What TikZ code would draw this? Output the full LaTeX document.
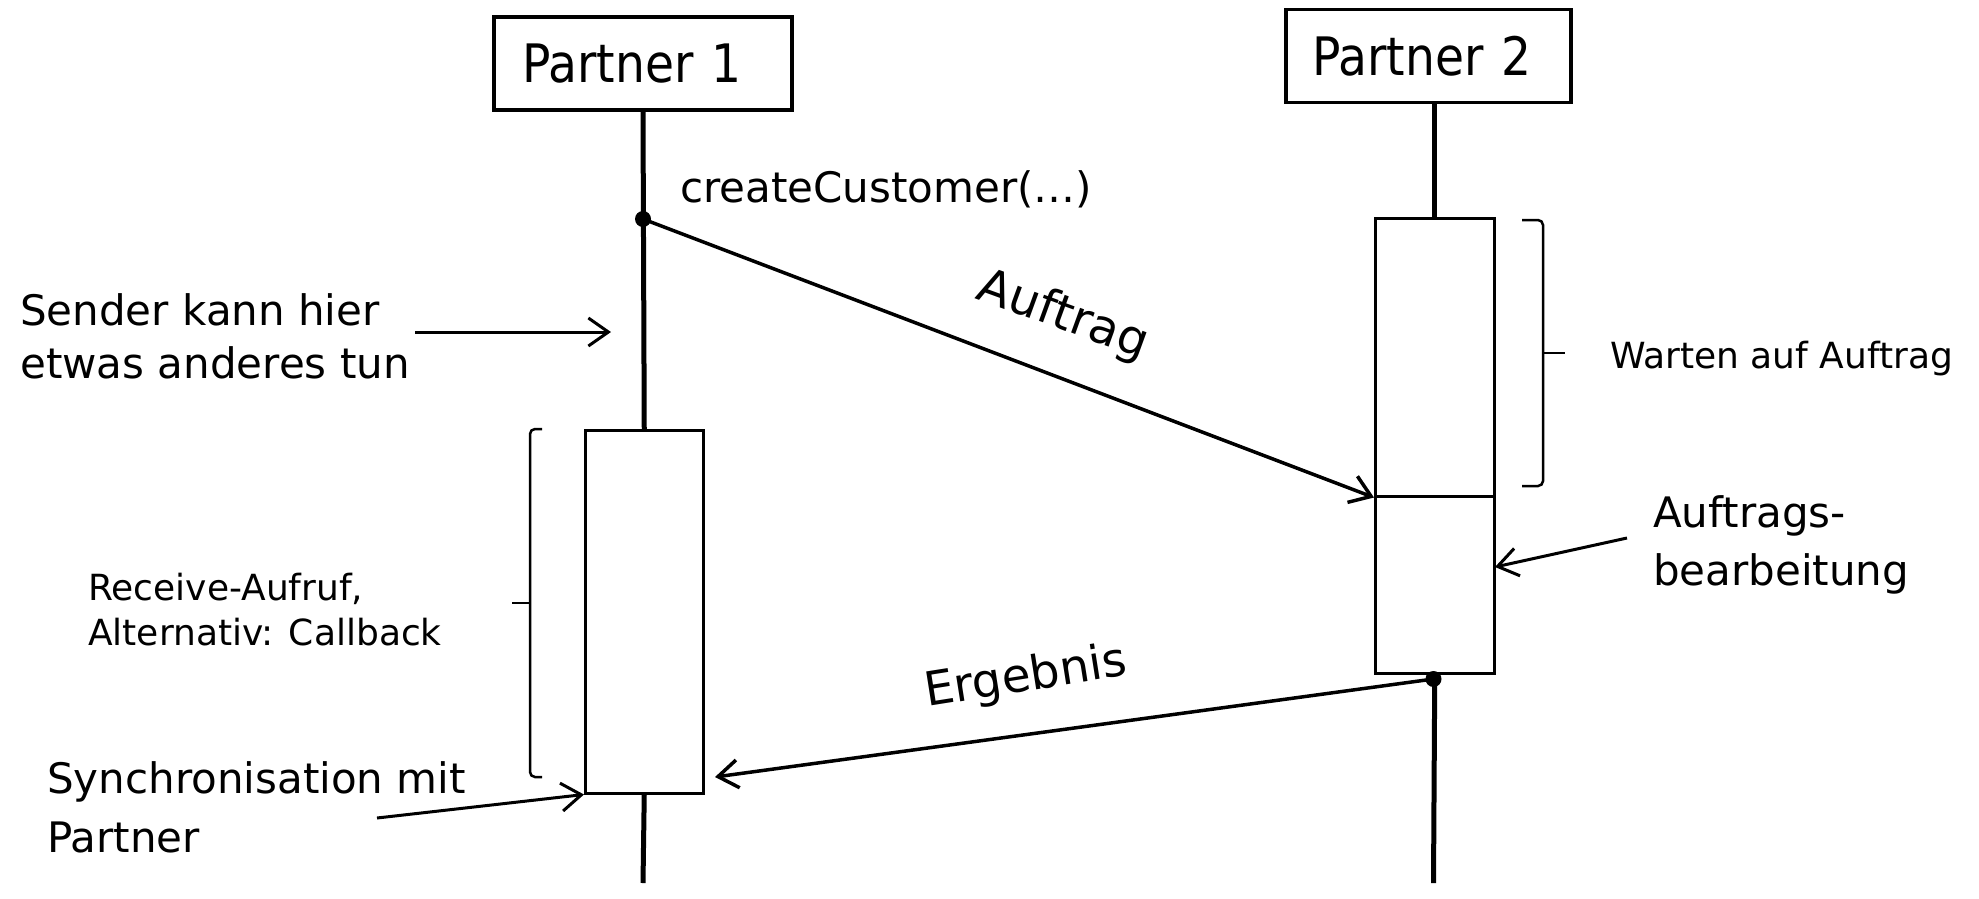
\documentclass[tikz,border=0pt]{standalone}
\usepackage{fontspec}
\setmainfont{DejaVu Sans}
\newfontfamily\pfont{DejaVu Sans}[FakeStretch=0.89]
\usetikzlibrary{arrows.meta}
\newcommand\tlines[2]{\vtop{\hbox{#1}\hbox{#2}}}
\tikzset{
  partner/.style={draw, line width=3.5pt, minimum height=93pt, inner ysep=0pt, align=left,
    font=\pfont\fontsize{53}{60}\selectfont},
  actbox/.style={draw, line width=2.5pt, inner sep=0pt, anchor=north west},
  life/.style={line width=5pt},
  msg/.style={line width=3.5pt, -{Straight Barb[length=20pt,width=28pt]}},
  note/.style={line width=3pt, -{Straight Barb[length=20pt,width=28pt]}},
  dot/.style={circle, fill, inner sep=0pt, minimum size=16pt},
  big/.style={font=\fontsize{42}{53}\selectfont, inner sep=0pt},
  small/.style={font=\fontsize{36}{45}\selectfont, inner sep=0pt},
  brk/.style={line width=2.5pt, rounded corners=5pt},
}
\begin{document}
\begin{tikzpicture}[x=1pt, y=-1pt]
\path[use as bounding box, fill=white] (0,0) rectangle (1979,898);

% lifeline heads
\node[partner, text width=242pt, inner xsep=28pt] (p1) at (643,63.5) {Partner 1};
\node[partner, text width=233pt, inner xsep=26pt] (p2) at (1428.5,56) {Partner 2};

% activation boxes
\node[actbox, minimum width=118pt, minimum height=363pt] (a1) at (584,429) {};
\node[actbox, minimum width=119pt, minimum height=278pt] (a2a) at (1374,217) {};
\node[actbox, minimum width=119pt, minimum height=177pt] (a2b) at (1374,495) {};

% coordinates
\coordinate (d1) at (643,219);
\coordinate (d2) at (1433.5,679);
\coordinate (l1end) at (643,883);
\coordinate (l2end) at (1433.5,883);
\coordinate (ergtip) at (715,777);
\coordinate (sa) at (415,332);
\coordinate (sb) at (611,332);
\coordinate (sy) at (377,818);
\coordinate (ab) at (1627,538);
\coordinate (abt) at (1495,567);

% lifelines
\draw[life] (p1.south) -- (a1.north);
\draw[life] (a1.south) -- (l1end);
\draw[life] (p2.south -| a2a.north) -- (a2a.north);
\draw[life] (a2b.south) -- (l2end);

% messages
\draw[msg] (d1) -- (a2a.south west);
\draw[msg] (d2) -- (ergtip);
\node[dot] (dot1) at (d1) {};
\node[dot] (dot2) at (d2) {};

% annotation arrows
\draw[note] (sa) -- (sb);
\draw[note] (sy) -- (a1.south west);
\draw[note] (ab) -- (abt);

% brackets
\draw[brk] (542,429) -- (530,429) -- (530,777) -- (542,777);
\draw[brk] (530,603) -- (512,603);
\draw[brk] (1522,220) -- (1543,220) -- (1543,486) -- (1522,486);
\draw[brk] (1543,353) -- (1565,353);

% texts
\node[big, anchor=base west] (cc) at (680,202) {createCustomer(…)};
\node[big, font=\fontsize{48}{53}\selectfont, rotate=-20] (lauf) at (1063,316) {Auftrag};
\node[big, font=\fontsize{47}{53}\selectfont, rotate=9] (lerg) at (1026,678) {Ergebnis};
\node[big, anchor=base west] (snd) at (20,325) {\tlines{Sender kann hier}{etwas anderes tun}};
\node[small, anchor=base west] (rcv) at (88,600) {\tlines{Receive-Aufruf,}{Alternativ: Callback}};
\node[big, font=\fontsize{42}{59}\selectfont, anchor=base west] (syn) at (47,793) {\tlines{Synchronisation mit}{Partner}};
\node[big, font=\fontsize{42}{58}\selectfont, anchor=base west] (abl) at (1653,527) {\tlines{Auftrags-}{bearbeitung}};
\node[small, anchor=base west] (wrt) at (1610,368) {Warten auf Auftrag};
\end{tikzpicture}
\end{document}
